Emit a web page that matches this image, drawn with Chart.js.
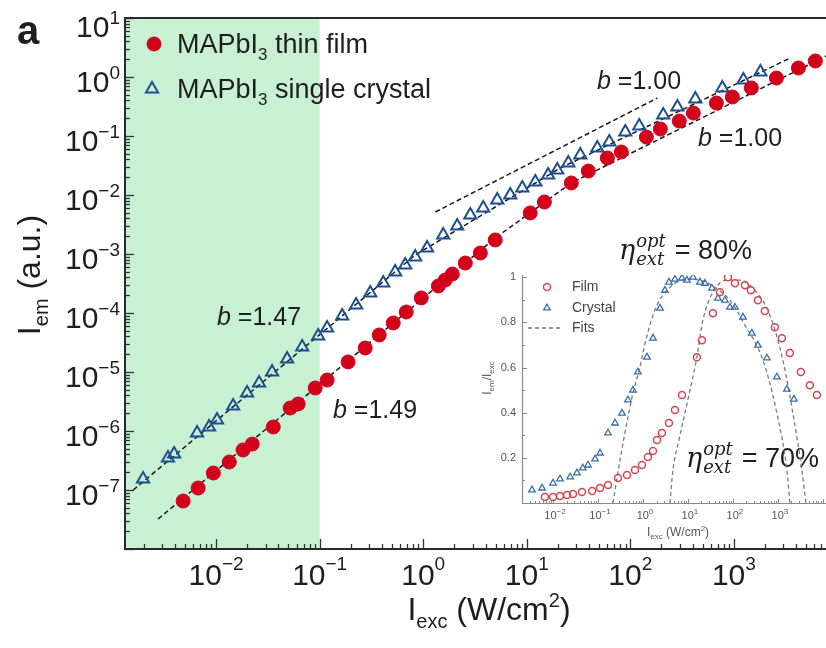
<!DOCTYPE html>
<html>
<head>
<meta charset="utf-8">
<script src="https://cdn.jsdelivr.net/npm/chart.js@4.4.1/dist/chart.umd.min.js"></script>
<style>
html, body { margin: 0; padding: 0; background: #fff; }
#wrap { position: relative; width: 826px; height: 648px; }
#main { position: absolute; left: 0; top: 0; }
#inset { position: absolute; left: 470px; top: 262px; }
</style>
</head>
<body>
<div id="wrap">
<canvas id="main" width="826" height="648"></canvas>
<canvas id="inset" width="356" height="290"></canvas>
</div>
<script>
// main panel: I_em vs I_exc
const filmX = [0.0048, 0.0067, 0.0094, 0.0134, 0.0182, 0.0223, 0.0356, 0.0519, 0.062, 0.0906, 0.118, 0.188, 0.275, 0.376, 0.513, 0.685, 0.957, 1.40, 1.63, 1.91, 2.55, 3.56, 4.96, 10.8, 14.8, 26.9, 39.3, 60.0, 81.9, 143, 195, 297, 406, 678, 968, 1476, 2577, 4200, 6120];
const filmY = [6.5e-8, 1.08e-7, 1.94e-7, 2.98e-7, 4.77e-7, 6.0e-7, 1.17e-6, 2.45e-6, 2.87e-6, 5.36e-6, 7.3e-6, 1.48e-5, 2.55e-5, 4.24e-5, 6.78e-5, 1.04e-4, 1.80e-4, 2.87e-4, 3.62e-4, 4.58e-4, 7.03e-4, 1.04e-3, 1.73e-3, 4.96e-3, 7.6e-3, 1.60e-2, 2.55e-2, 4.24e-2, 5.36e-2, 9.6e-2, 0.131, 0.179, 0.245, 0.362, 0.458, 0.652, 0.96, 1.42, 1.87];
const crystalX = [0.00197, 0.00343, 0.00393, 0.00655, 0.00855, 0.0102, 0.0146, 0.0199, 0.026, 0.0347, 0.0485, 0.0678, 0.0968, 0.118, 0.165, 0.225, 0.308, 0.411, 0.536, 0.67, 0.837, 1.09, 1.56, 2.13, 2.85, 3.80, 5.19, 6.93, 9.06, 12.1, 16.1, 19.7, 25.2, 32.9, 48.0, 62.7, 89.5, 122, 208, 285, 425, 774, 1236, 1805];
const crystalY = [1.53e-7, 3.48e-7, 4.07e-7, 9.25e-7, 1.17e-6, 1.53e-6, 2.65e-6, 4.41e-6, 6.5e-6, 1.0e-5, 1.66e-5, 2.65e-5, 4.07e-5, 5.57e-5, 8.9e-5, 1.37e-4, 2.18e-4, 3.22e-4, 4.95e-4, 6.5e-4, 8.9e-4, 1.26e-3, 2.10e-3, 2.99e-3, 4.58e-3, 6.03e-3, 8.2e-3, 1.0e-2, 1.31e-2, 1.66e-2, 2.18e-2, 2.65e-2, 3.48e-2, 4.76e-2, 6.26e-2, 7.9e-2, 0.117, 0.148, 0.227, 0.310, 0.424, 0.652, 0.889, 1.22];

// dashed fit lines
const filmFitX = [0.00275, 4.97, 26.9, 7830];
const filmFitY = [3.22e-8, 1.87e-3, 1.60e-2, 2.27];
const crystalFitX = [0.00158, 0.837, 21.1, 3516];
const crystalFitY = [1.0e-7, 9.6e-4, 2.87e-2, 2.10];
const guideX = [1.31, 182];
const guideY = [5.15e-3, 0.44];

const xTickExps = [-2, -1, 0, 1, 2, 3];
const yTickExps = [1, 0, -1, -2, -3, -4, -5, -6, -7];

// inset: I_em / I_exc
const insetFilmX = [0.0066, 0.010, 0.0143, 0.0205, 0.0278, 0.044, 0.074, 0.111, 0.167, 0.278, 0.441, 0.664, 0.95, 1.29, 1.67, 2.05, 2.64, 3.78, 5.14, 7.36, 15.8, 20.5, 35.9, 51.4, 77.4, 111, 185, 251, 359, 514, 858, 1227, 1848, 3243, 5140, 7360];
const insetFilmY = [0.027, 0.027, 0.031, 0.035, 0.04, 0.049, 0.053, 0.066, 0.08, 0.111, 0.124, 0.146, 0.168, 0.204, 0.23, 0.279, 0.31, 0.354, 0.412, 0.478, 0.646, 0.721, 0.841, 0.934, 1.0, 0.973, 0.965, 0.942, 0.898, 0.85, 0.779, 0.73, 0.664, 0.58, 0.522, 0.478];
const insetCrystalX = [0.0034, 0.0057, 0.010, 0.0143, 0.024, 0.034, 0.046, 0.060, 0.086, 0.111, 0.167, 0.239, 0.341, 0.464, 0.60, 0.77, 1.23, 1.67, 2.39, 3.08, 3.78, 5.14, 7.36, 9.5, 12.9, 18.5, 23.9, 34.1, 46.4, 66.4, 85.8, 111, 167, 264, 359, 570, 950, 1585, 2270];
const insetCrystalY = [0.058, 0.066, 0.088, 0.106, 0.115, 0.133, 0.155, 0.168, 0.195, 0.221, 0.31, 0.354, 0.398, 0.456, 0.50, 0.58, 0.646, 0.73, 0.863, 0.942, 0.978, 0.991, 0.996, 0.987, 1.0, 0.978, 0.973, 0.951, 0.907, 0.898, 0.867, 0.867, 0.823, 0.752, 0.699, 0.642, 0.558, 0.504, 0.46];
const insetCrystalFitX = [0.215, 0.264, 0.378, 0.60, 0.857, 1.23, 2.05, 3.98, 9.5, 18.5, 39.8, 85.8, 185, 465, 950, 1585, 1850];
const insetCrystalFitY = [0, 0.11, 0.288, 0.487, 0.602, 0.743, 0.876, 0.956, 0.991, 0.987, 0.956, 0.898, 0.788, 0.633, 0.398, 0.146, 0];
const insetFilmFitX = [3.98, 4.64, 6.31, 8.57, 11.1, 15.8, 21.5, 36.0, 73.6, 143, 308, 664, 1291, 2153, 3412, 4188];
const insetFilmFitY = [0, 0.146, 0.279, 0.398, 0.5, 0.646, 0.81, 0.934, 0.987, 0.987, 0.942, 0.832, 0.633, 0.398, 0.146, 0];
const insetYTicks = [0.2, 0.4, 0.6, 0.8, 1];
const insetXTickExps = [-2, -1, 0, 1, 2, 3];

const SANS = '"Liberation Sans", Arial, sans-serif';
const SERIF = '"DejaVu Serif", serif';
const RED = '#d3021b';
const BLUE = '#1d4f91';
const INK = '#1e1e1e';

function pairs(xs, ys) {
    return xs.map((x, i) => ({ x: x, y: ys[i] }));
}

// draw text made of pieces: {t, size, dy, font, style}
function richText(ctx, parts, x, y, align) {
    let total = 0;
    parts.forEach(p => {
        ctx.font = (p.style || '') + ' ' + p.size + 'px ' + (p.font || SANS);
        p.w = ctx.measureText(p.t).width;
        total += p.w;
    });
    let cx = align === 'center' ? x - total / 2 : (align === 'right' ? x - total : x);
    ctx.textAlign = 'left';
    ctx.textBaseline = 'alphabetic';
    parts.forEach(p => {
        ctx.font = (p.style || '') + ' ' + p.size + 'px ' + (p.font || SANS);
        ctx.fillText(p.t, cx, y + (p.dy || 0));
        cx += p.w;
    });
}

function powLabel(exp, big, small, rise) {
    const sup = exp < 0 ? '\u2212' + (-exp) : String(exp);
    return [{ t: '10', size: big }, { t: sup, size: small, dy: -rise }];
}

function drawLogTicks(ctx, scale, lo, hi, horizontal, base, majorLen, minorLen) {
    for (let e = lo; e <= hi; e++) {
        for (let m = 1; m <= 9; m++) {
            const v = m * Math.pow(10, e);
            if (v < scale.min || v > scale.max) continue;
            const p = Math.round(scale.getPixelForValue(v)) + 0.5;
            const len = m === 1 ? majorLen : minorLen;
            ctx.beginPath();
            if (horizontal) { ctx.moveTo(p, base); ctx.lineTo(p, base - len); }
            else { ctx.moveTo(base, p); ctx.lineTo(base + len, p); }
            ctx.stroke();
        }
    }
}

function drawEta(ctx, x, y, value) {
    ctx.fillStyle = INK;
    ctx.textAlign = 'left';
    ctx.textBaseline = 'alphabetic';
    ctx.font = 'italic 27px ' + SERIF;
    ctx.fillText('\u03b7', x, y);
    const wEta = ctx.measureText('\u03b7').width;
    ctx.font = 'italic 18px ' + SERIF;
    ctx.fillText('opt', x + wEta + 1, y - 12);
    ctx.fillText('ext', x + wEta + 1, y + 6);
    const wSub = Math.max(ctx.measureText('opt').width, ctx.measureText('ext').width);
    ctx.font = '27px ' + SANS;
    ctx.fillText('= ' + value, x + wEta + wSub + 10, y);
}

const mainDecor = {
    id: 'mainDecor',
    beforeDatasetsDraw(chart) {
        const { ctx, chartArea: a, scales: { x } } = chart;
        ctx.save();
        ctx.fillStyle = '#c8f1d4';
        ctx.fillRect(a.left, a.top, x.getPixelForValue(0.1) - a.left, a.bottom - a.top);
        ctx.restore();
    },
    afterDatasetsDraw(chart) {
        const { ctx, chartArea: a, scales: { x, y } } = chart;
        ctx.save();
        // ticks
        ctx.strokeStyle = '#333';
        ctx.lineWidth = 1.3;
        drawLogTicks(ctx, x, -3, 3, true, a.bottom, 10, 5);
        drawLogTicks(ctx, y, -8, 1, false, a.left, 9, 5);
        // spines
        ctx.strokeStyle = '#2a2a2a';
        ctx.lineWidth = 2;
        ctx.beginPath();
        ctx.moveTo(a.right, a.top);
        ctx.lineTo(a.left, a.top);
        ctx.lineTo(a.left, a.bottom);
        ctx.lineTo(a.right, a.bottom);
        ctx.stroke();

        ctx.fillStyle = INK;
        xTickExps.forEach(e => {
            richText(ctx, powLabel(e, 30, 19, 15), x.getPixelForValue(Math.pow(10, e)), a.bottom + 36, 'center');
        });
        yTickExps.forEach(e => {
            const off = e === 1 ? 19 : 15;
            richText(ctx, powLabel(e, 30, 19, 13), a.left - 5, y.getPixelForValue(Math.pow(10, e)) + off, 'right');
        });

        // axis titles
        richText(ctx, [
            { t: 'I', size: 32 }, { t: 'exc', size: 20, dy: 8 },
            { t: ' (W/cm', size: 32 }, { t: '2', size: 20, dy: -13 }, { t: ')', size: 32 }
        ], 489, 620, 'center');
        ctx.save();
        ctx.translate(40, 275);
        ctx.rotate(-Math.PI / 2);
        richText(ctx, [
            { t: 'I', size: 32 }, { t: 'em', size: 20, dy: 8 }, { t: ' (a.u.)', size: 32 }
        ], 0, 0, 'center');
        ctx.restore();

        // panel letter
        ctx.font = 'bold 40px ' + SANS;
        ctx.fillText('a', 17, 44);

        // legend
        ctx.fillStyle = RED;
        ctx.strokeStyle = RED;
        ctx.lineWidth = 1;
        Chart.helpers.drawPoint(ctx, { pointStyle: 'circle', radius: 7, borderWidth: 1, rotation: 0 }, 154, 44);
        ctx.fillStyle = 'rgba(0,0,0,0)';
        ctx.strokeStyle = BLUE;
        ctx.lineWidth = 2;
        Chart.helpers.drawPoint(ctx, { pointStyle: 'triangle', radius: 7, borderWidth: 2, rotation: 0 }, 152, 89);
        ctx.fillStyle = INK;
        richText(ctx, [{ t: 'MAPbI', size: 27 }, { t: '3', size: 17, dy: 7 }, { t: ' thin film', size: 27 }], 177, 53, 'left');
        richText(ctx, [{ t: 'MAPbI', size: 27 }, { t: '3', size: 17, dy: 7 }, { t: ' single crystal', size: 27 }], 177, 98, 'left');

        // slope labels
        const bLabel = (txt, px, py) => richText(ctx, [{ t: 'b', size: 25, style: 'italic' }, { t: ' =' + txt, size: 25 }], px, py, 'left');
        bLabel('1.00', 597, 89);
        bLabel('1.00', 698, 146);
        bLabel('1.47', 217, 325);
        bLabel('1.49', 333, 418);

        drawEta(ctx, 619, 259, '80%');
        drawEta(ctx, 686, 467, '70%');
        ctx.restore();
    }
};

const fitStyle = {
    showLine: true,
    borderColor: '#1a1a1a',
    borderWidth: 1.5,
    borderDash: [5, 3],
    pointRadius: 0,
    tension: 0,
    order: 3
};

new Chart(document.getElementById('main'), {
    type: 'scatter',
    data: {
        datasets: [
            Object.assign({ label: 'film fit', data: pairs(filmFitX, filmFitY) }, fitStyle),
            Object.assign({ label: 'crystal fit', data: pairs(crystalFitX, crystalFitY) }, fitStyle),
            Object.assign({ label: 'slope guide', data: pairs(guideX, guideY) }, fitStyle),
            {
                label: 'MAPbI3 thin film',
                data: pairs(filmX, filmY),
                pointStyle: 'circle',
                pointRadius: 7,
                pointBackgroundColor: RED,
                pointBorderColor: RED,
                pointBorderWidth: 1,
                order: 1
            },
            {
                label: 'MAPbI3 single crystal',
                data: pairs(crystalX, crystalY),
                pointStyle: 'triangle',
                pointRadius: 7,
                pointBackgroundColor: 'rgba(0,0,0,0)',
                pointBorderColor: BLUE,
                pointBorderWidth: 2,
                order: 2
            }
        ]
    },
    options: {
        responsive: false,
        animation: false,
        layout: { autoPadding: false, padding: { left: 125, top: 18, right: 0, bottom: 99 } },
        plugins: { legend: { display: false }, tooltip: { enabled: false } },
        scales: {
            x: { type: 'logarithmic', display: false, min: Math.pow(10, -2.88), max: Math.pow(10, 3.89) },
            y: { type: 'logarithmic', display: false, min: 1e-8, max: 10 }
        }
    },
    plugins: [mainDecor]
});

// ---------- inset ----------
const IRED = '#d4474f';
const IBLUE = '#3b6faa';
const GREY = '#555';

const insetDecor = {
    id: 'insetDecor',
    afterDatasetsDraw(chart) {
        const { ctx, chartArea: a, scales: { x, y } } = chart;
        ctx.save();
        ctx.strokeStyle = '#8a8a8a';
        ctx.lineWidth = 1;
        drawLogTicks(ctx, x, -3, 4, true, a.bottom, 4, 2);
        for (let k = 1; k <= 10; k++) {
            const p = Math.round(y.getPixelForValue(k / 10)) + 0.5;
            ctx.beginPath();
            ctx.moveTo(a.left, p);
            ctx.lineTo(a.left + (k % 2 === 0 ? 5 : 3), p);
            ctx.stroke();
        }
        ctx.lineWidth = 1.2;
        ctx.beginPath();
        ctx.moveTo(a.left + 0.5, a.top);
        ctx.lineTo(a.left + 0.5, a.bottom + 0.5);
        ctx.lineTo(a.right, a.bottom + 0.5);
        ctx.stroke();

        ctx.fillStyle = GREY;
        insetXTickExps.forEach(e => {
            richText(ctx, powLabel(e, 11, 8, 5), x.getPixelForValue(Math.pow(10, e)) + 2, a.bottom + 16, 'center');
        });
        ctx.font = '11px ' + SANS;
        ctx.textAlign = 'right';
        ctx.textBaseline = 'middle';
        insetYTicks.forEach(v => {
            ctx.fillText(String(v), a.left - 6, y.getPixelForValue(v));
        });

        richText(ctx, [
            { t: 'I', size: 12 }, { t: 'exc', size: 8, dy: 3 },
            { t: ' (W/cm', size: 12 }, { t: '2', size: 8, dy: -5 }, { t: ')', size: 12 }
        ], 208, 274, 'center');
        ctx.save();
        ctx.translate(21, 116);
        ctx.rotate(-Math.PI / 2);
        richText(ctx, [
            { t: 'I', size: 12 }, { t: 'em', size: 8, dy: 3 },
            { t: '/I', size: 12 }, { t: 'exc', size: 8, dy: 3 }
        ], 0, 0, 'center');
        ctx.restore();

        // legend
        ctx.fillStyle = 'rgba(0,0,0,0)';
        ctx.strokeStyle = IRED;
        ctx.lineWidth = 1.5;
        Chart.helpers.drawPoint(ctx, { pointStyle: 'circle', radius: 3.5, borderWidth: 1.5, rotation: 0 }, 77, 25);
        ctx.strokeStyle = IBLUE;
        ctx.lineWidth = 1.3;
        Chart.helpers.drawPoint(ctx, { pointStyle: 'triangle', radius: 3.8, borderWidth: 1.3, rotation: 0 }, 77, 46);
        ctx.strokeStyle = '#777';
        ctx.lineWidth = 1.3;
        ctx.setLineDash([4, 3]);
        ctx.beginPath();
        ctx.moveTo(58, 66);
        ctx.lineTo(93, 66);
        ctx.stroke();
        ctx.setLineDash([]);
        ctx.fillStyle = '#444';
        ctx.font = '14px ' + SANS;
        ctx.textAlign = 'left';
        ctx.textBaseline = 'middle';
        ctx.fillText('Film', 102, 25);
        ctx.fillText('Crystal', 102, 46);
        ctx.fillText('Fits', 102, 66);
        ctx.restore();
    }
};

const insetFitStyle = {
    showLine: true,
    borderColor: '#7a7a7a',
    borderWidth: 1.3,
    borderDash: [4, 3],
    pointRadius: 0,
    cubicInterpolationMode: 'monotone',
    order: 3
};

new Chart(document.getElementById('inset'), {
    type: 'scatter',
    data: {
        datasets: [
            Object.assign({ label: 'Fits', data: pairs(insetCrystalFitX, insetCrystalFitY) }, insetFitStyle),
            Object.assign({ label: 'Fits film', data: pairs(insetFilmFitX, insetFilmFitY) }, insetFitStyle),
            {
                label: 'Film',
                data: pairs(insetFilmX, insetFilmY),
                pointStyle: 'circle',
                pointRadius: 3.5,
                pointBackgroundColor: 'rgba(0,0,0,0)',
                pointBorderColor: IRED,
                pointBorderWidth: 1.5,
                order: 1
            },
            {
                label: 'Crystal',
                data: pairs(insetCrystalX, insetCrystalY),
                pointStyle: 'triangle',
                pointRadius: 3.8,
                pointBackgroundColor: 'rgba(0,0,0,0)',
                pointBorderColor: IBLUE,
                pointBorderWidth: 1.3,
                order: 2
            }
        ]
    },
    options: {
        responsive: false,
        animation: false,
        layout: { autoPadding: false, padding: { left: 52, top: 13, right: 0, bottom: 49 } },
        plugins: { legend: { display: false }, tooltip: { enabled: false } },
        scales: {
            x: { type: 'logarithmic', display: false, min: Math.pow(10, -2.69), max: Math.pow(10, 4.07) },
            y: { type: 'linear', display: false, min: 0, max: 1.01 }
        }
    },
    plugins: [insetDecor]
});
</script>
</body>
</html>
